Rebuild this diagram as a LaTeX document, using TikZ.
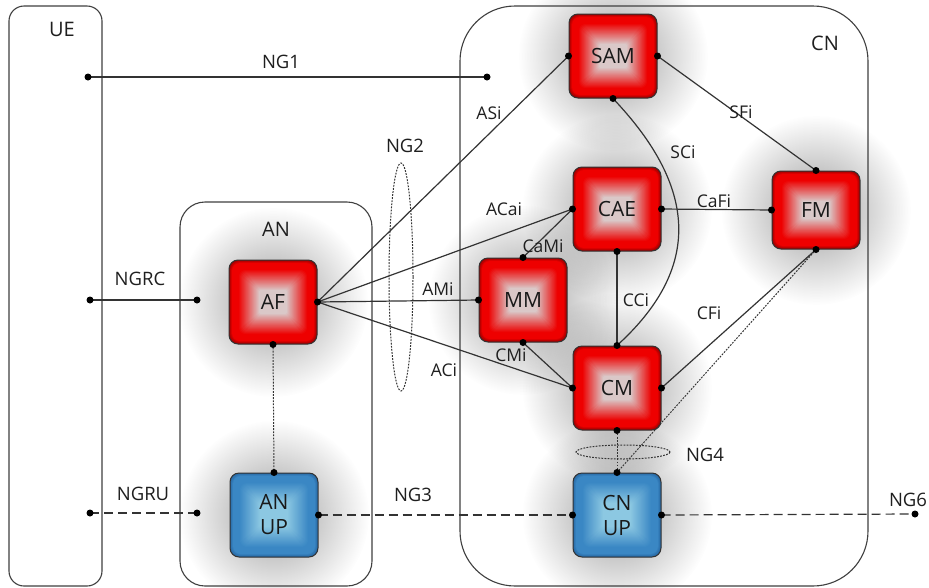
\documentclass[tikz,border=0pt]{standalone}
\usepackage{fontspec}
\setmainfont{Open Sans}
\usetikzlibrary{fadings}
\tikzfading[name=glowfade, inner color=transparent!0, outer color=transparent!100]
\definecolor{redc}{RGB}{218,200,200}
\definecolor{redm}{RGB}{238,0,0}
\definecolor{redd}{RGB}{160,0,0}
\definecolor{bluec}{RGB}{140,200,226}
\definecolor{bluem}{RGB}{58,135,196}
\definecolor{blued}{RGB}{40,105,165}
\begin{document}
\begin{tikzpicture}[x=1pt,y=-1pt,
  ln/.style={draw=black!80, line width=1.2pt},
  dashline/.style={draw=black!80, line width=1.2pt, dash pattern=on 9pt off 5pt},
  dotline/.style={draw=black!80, line width=1pt, dash pattern=on 1.8pt off 1.3pt},
  cont/.style={draw=black!75, line width=1.1pt},
  pillow/.style n args={3}{path picture={
    \foreach \i/\m in {0/100,1/65,2/30}
      \fill[#1!\m!#2, rounded corners=9pt]
        ([xshift=\i pt, yshift=\i pt]path picture bounding box.south west) rectangle
        ([xshift=-\i pt, yshift=-\i pt]path picture bounding box.north east);
    \fill[#2, rounded corners=8pt]
        ([xshift=3pt, yshift=3pt]path picture bounding box.south west) rectangle
        ([xshift=-3pt, yshift=-3pt]path picture bounding box.north east);
    \foreach \i in {9,...,34}{
      \pgfmathtruncatemacro\m{min(100,(\i-9)*100/21)}
      \pgfmathsetmacro\rc{max(1,8-(\i-3)*0.22)}
      \fill[#3!\m!#2, rounded corners=\rc pt]
        ([xshift=\i pt, yshift=\i pt]path picture bounding box.south west) rectangle
        ([xshift=-\i pt, yshift=-\i pt]path picture bounding box.north east);
    }
  }},
  box/.style={rounded corners=9pt, minimum width=88pt, minimum height=84pt, inner sep=0pt,
    draw=black!80, line width=1pt, align=center, text=black!90,
    font=\fontsize{21}{25}\selectfont},
  redbox/.style={box, pillow={redd}{redm}{redc}},
  bluebox/.style={box, pillow={blued}{bluem}{bluec}},
  lab/.style={font=\fontsize{17.5}{20}\selectfont, text=black!88, inner sep=0pt},
  nglab/.style={font=\fontsize{18.5}{21}\selectfont, text=black!88, inner sep=0pt},
  contlab/.style={font=\fontsize{20}{22}\selectfont, text=black!88, inner sep=0pt},
  glow/.style={fill=black, opacity=0.38, path fading=glowfade}
]
\useasboundingbox[fill=white] (0,0) rectangle (929,587);

% glows
\foreach \gx/\gy in {613/56, 617/209, 816/210, 523/300, 617/388, 617/515, 273/302, 274/515}
  \fill[glow] (\gx,\gy) circle (95);

% containers
\draw[cont, rounded corners=15pt] (9,6) rectangle (102,586);
\draw[cont, rounded corners=25pt] (180,202) rectangle (372,586);
\draw[cont, rounded corners=55pt] (460,6) rectangle (868,586);
\node[contlab] (uel) at (62,29) {UE};
\node[contlab] (anl) at (276,229) {AN};
\node[contlab] (cnl) at (825,43) {CN};

% boxes
\node[redbox] (sam) at (613,56) {SAM};
\node[redbox] (cae) at (617,209) {CAE};
\node[redbox, minimum height=78pt] (fm) at (816,210) {FM};
\node[redbox] (mm) at (523,300) {MM};
\node[redbox] (cm) at (617,388) {CM};
\node[redbox] (af) at (273,302) {AF};
\node[bluebox] (cnup) at (617,515) {CN\\UP};
\node[bluebox] (anup) at (274,515) {AN\\UP};

% free end points
\coordinate (ue1) at (88,77);
\coordinate (cn1) at (487,77);
\coordinate (uerc) at (90,300);
\coordinate (anrc) at (197,300);
\coordinate (ueru) at (90,513);
\coordinate (anru) at (197,513);
\coordinate (ng6) at (915,514);

% connectors
\draw[ln] (ue1) -- (cn1);
\draw[ln] (uerc) -- (anrc);
\draw[dashline] (ueru) -- (anru);
\draw[dashline] (anup.east) -- (cnup.west);
\draw[dashline] (cnup.east) -- (ng6);

\draw[ln] (af.east) -- (sam.west);
\draw[ln] (af.east) -- (cae.west);
\draw[ln] (af.east) -- (mm.west);
\draw[ln] (af.east) -- (cm.west);
\draw[dotline] (af.south) -- (anup.north);

\draw[ln] (mm.north) -- (cae.west);
\draw[ln] (mm.south) -- (cm.west);
\draw[ln] (sam.east) -- (fm.north);
\draw[ln] (sam.south) .. controls (700,190) and (700,270) .. (cm.north);
\draw[ln] (cae.east) -- (fm.west);
\draw[ln] (cae.south) -- (cm.north);
\draw[ln] (fm.south) -- (cm.east);
\draw[dotline] (fm.south) -- (cnup.north);
\draw[dotline] (cm.south) -- (cnup.north);

\draw[dotline] (401,277) ellipse (12 and 114);
\draw[dotline] (623,452) ellipse (47 and 7);

% dots
\foreach \p in {ue1, cn1, uerc, anrc, ueru, anru, ng6,
  af.east, af.south, anup.north, anup.east, cnup.west, cnup.east, cnup.north,
  sam.west, sam.east, sam.south, cae.west, cae.east, cae.south,
  fm.north, fm.west, fm.south, mm.west, mm.north, mm.south,
  cm.west, cm.north, cm.east, cm.south}
  \fill[black] (\p) circle (3.5);

% labels
\node[nglab] (ng1l) at (281,62) {NG1};
\node[nglab] (ngrcl) at (140,279) {NGRC};
\node[nglab] (ngrul) at (143,494) {NGRU};
\node[nglab] (ng3l) at (413,495) {NG3};
\node[nglab] (ng6l) at (908,500) {NG6};
\node[nglab] (ng2l) at (405,146) {NG2};
\node[nglab] (ng4l) at (705,455) {NG4};

\node[lab] (asil) at (489,113) {ASi};
\node[lab] (acail) at (504,209) {ACai};
\node[lab] (amil) at (438,289) {AMi};
\node[lab] (acil) at (444,370) {ACi};
\node[lab] (camil) at (543,246) {CaMi};
\node[lab] (cmil) at (511,355) {CMi};
\node[lab] (sfil) at (741,112) {SFi};
\node[lab] (scil) at (683,152) {SCi};
\node[lab] (cafil) at (714,201) {CaFi};
\node[lab] (ccil) at (636,300) {CCi};
\node[lab] (cfil) at (709,313) {CFi};
\end{tikzpicture}
\end{document}
